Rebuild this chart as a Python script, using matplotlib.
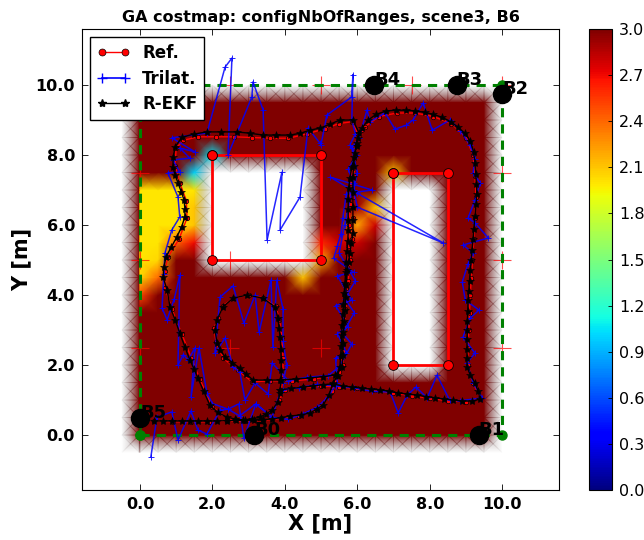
import matplotlib
matplotlib.use("Agg")
import matplotlib.pyplot as plt
import numpy as np
from matplotlib.cm import ScalarMappable
from matplotlib.colors import Normalize
from matplotlib.lines import Line2D

# costmap nodes every 0.5 m, extra column at -0.02 keeps the left rim free of yellow
grid_x = np.concatenate(([-0.5, -0.02], np.arange(0, 10.01, 0.5)))
grid_y = np.arange(-0.5, 10.01, 0.5)
# blocked areas (xmin, xmax, ymin, ymax), no cost known there
blocked = [(-0.5, -0.5, -0.5, 10), (10, 10, -0.5, 10), (-0.5, 10, -0.5, -0.5),
           (-0.5, 10, 10, 10), (2, 4.5, 5, 7.5), (7, 8, 2, 7)]
# nodes below the 3.0 ceiling
low_x = [0, 0, 0, 0, 0, 0, 0, 0.5, 0.5, 0.5, 0.5, 0.5, 0.5, 1, 1, 1, 1, 1.5, 1.5, 1.5, 1.5, 1.5, 2,
         4.5, 5, 5, 7, 6, 6.5, 6, 5.5, 6.5, 6]
low_y = [4, 4.5, 5, 5.5, 6, 6.5, 7, 4.5, 5, 5.5, 6, 6.5, 7, 5.5, 6, 6.5, 7, 5.5, 6, 6.5, 7, 7.5, 8,
         4.5, 5, 5.5, 7.5, 6, 6.5, 5.5, 5.5, 6, 6.5]
low_val = [2.5, 2.05, 2.0, 2.0, 2.0, 2.0, 2.0, 2.4, 2.05, 2.0, 2.0, 2.0, 2.0, 2.4, 2.0, 2.0, 2.0,
           2.7, 2.1, 2.1, 2.0, 1.0, 1.05,
           2.1, 2.2, 2.6, 2.1, 2.2, 2.1, 2.8, 2.8, 2.8, 2.9]
# obstacles, closed outlines
obst1_x = [2, 5, 5, 2, 2]
obst1_y = [8, 8, 5, 5, 8]
obst2_x = [7, 8.5, 8.5, 7, 7]
obst2_y = [7.5, 7.5, 2, 2, 7.5]
arena_x = [0, 10, 10, 0, 0]
arena_y = [0, 0, 10, 10, 0]
plus_x = [0, 0, 0, 2.5, 2.5, 5, 2.5, 5, 7.5, 10, 10, 10, 10]
plus_y = [2.5, 5, 7.5, 2.5, 5, 2.5, 10, 10, 10, 7.5, 5, 2.5, 10]
beacon_names = ["B0", "B1", "B2", "B3", "B4", "B5"]
beacon_x = [3.15, 9.35, 10, 8.75, 6.47, 0]
beacon_y = [0, 0, 9.75, 10, 10, 0.5]

ekf_path = np.array([
    (0.39, 0.40), (0.63, 0.40), (0.88, 0.40), (1.16, 0.40), (1.38, 0.40), (1.60, 0.40), (1.85, 0.40),
    (2.13, 0.40), (2.40, 0.41), (2.65, 0.42), (2.90, 0.42), (3.15, 0.43), (3.40, 0.44), (3.65, 0.46),
    (3.90, 0.50), (4.15, 0.54), (4.45, 0.58), (4.70, 0.63), (4.88, 0.74), (5.06, 0.86), (5.22, 1.15),
    (5.33, 1.49), (5.46, 1.70), (5.52, 1.94), (5.54, 2.25), (5.56, 2.55), (5.57, 2.85), (5.58, 3.15),
    (5.60, 3.45), (5.62, 3.75), (5.64, 4.05), (5.66, 4.35), (5.68, 4.65), (5.70, 4.95), (5.72, 5.25),
    (5.74, 5.55), (5.75, 5.85), (5.75, 6.15), (5.75, 6.45), (5.75, 6.75), (5.76, 7.05), (5.80, 7.35),
    (5.85, 7.65), (5.92, 7.95), (5.98, 8.25), (6.02, 8.50), (6.14, 8.78), (6.30, 9.00), (6.52, 9.16),
    (6.80, 9.26), (7.08, 9.28), (7.35, 9.28), (7.60, 9.26), (7.86, 9.22), (8.10, 9.16), (8.34, 9.08),
    (8.58, 8.95), (8.78, 8.80), (8.97, 8.62), (9.12, 8.40), (9.21, 8.10), (9.25, 7.77), (9.27, 7.47),
    (9.29, 7.17), (9.30, 6.90), (9.28, 6.60), (9.25, 6.25), (9.22, 5.90), (9.20, 5.60), (9.17, 5.29),
    (9.15, 5.00), (9.12, 4.71), (9.10, 4.40), (9.08, 4.12), (9.06, 3.86), (9.05, 3.55), (9.04, 3.25),
    (9.04, 3.00), (9.03, 2.75), (9.03, 2.45), (9.03, 2.20), (9.03, 1.94), (9.12, 1.72), (9.25, 1.49),
    (9.33, 1.27), (9.39, 1.03), (9.17, 0.97), (8.90, 0.97), (8.65, 1.00), (8.40, 1.03), (8.15, 1.06),
    (7.90, 1.10), (7.65, 1.14), (7.38, 1.17), (7.13, 1.20), (6.88, 1.25), (6.63, 1.29), (6.38, 1.31),
    (6.13, 1.34), (5.86, 1.37), (5.60, 1.40), (5.33, 1.46), (5.05, 1.44), (4.77, 1.40), (4.50, 1.37),
    (4.18, 1.33), (3.87, 1.29), (3.87, 1.20), (3.80, 0.94), (3.65, 0.71), (3.48, 0.60), (3.31, 0.51),
    (3.08, 0.46), (2.85, 0.43), (2.62, 0.46), (2.40, 0.51), (2.15, 0.65), (1.93, 0.85), (1.76, 1.25),
    (1.60, 1.63), (1.49, 1.90), (1.38, 2.14), (1.24, 2.52), (1.10, 2.91), (0.97, 3.30), (0.83, 3.66),
    (0.75, 4.14), (0.64, 4.51), (0.66, 4.80), (0.72, 5.09), (0.87, 5.38), (1.02, 5.66), (1.15, 5.95),
    (1.24, 6.23), (1.24, 6.47), (1.22, 6.71), (1.14, 6.95), (1.05, 7.20), (0.97, 7.43), (0.91, 7.66),
    (0.92, 7.95), (0.97, 8.23), (1.16, 8.51), (1.50, 8.60), (1.85, 8.66), (2.25, 8.66), (2.68, 8.66),
    (3.05, 8.62), (3.40, 8.57), (3.77, 8.57), (4.14, 8.57), (4.42, 8.62), (4.70, 8.71), (4.97, 8.77),
    (5.25, 8.88), (5.52, 9.00), (5.88, 9.00), (6.05, 8.63), (5.98, 8.35), (5.94, 8.06), (5.90, 7.70),
    (5.88, 7.37), (5.88, 6.94), (5.88, 6.51), (5.88, 6.14), (5.88, 5.77), (5.84, 5.48), (5.80, 5.20),
    (5.76, 4.95), (5.72, 4.71), (5.70, 4.30), (5.68, 3.95), (5.66, 3.57), (5.64, 3.25), (5.62, 2.95),
    (5.60, 2.63), (5.60, 2.30), (5.58, 1.94), (5.39, 1.71), (5.05, 1.67), (4.70, 1.63), (4.30, 1.60),
    (3.87, 1.57), (3.50, 1.57), (3.12, 1.57), (2.94, 1.74), (2.76, 1.91), (2.55, 2.07), (2.35, 2.23),
    (2.22, 2.43), (2.13, 2.63), (2.07, 3.00), (2.13, 3.29), (2.29, 3.66), (2.57, 3.91), (2.96, 4.00),
    (3.40, 3.91), (3.73, 3.66), (3.81, 3.34), (3.84, 3.07), (3.87, 2.80), (3.89, 2.47), (3.90, 2.14),
    (3.90, 1.85), (3.90, 1.57), (3.87, 1.30),
])
ref_path = np.array([
    (0.40, 0.40), (0.90, 0.38), (1.40, 0.38), (1.90, 0.38), (2.40, 0.40), (2.90, 0.40), (3.40, 0.42),
    (3.90, 0.48), (4.40, 0.55), (4.90, 0.72), (5.30, 1.25), (5.50, 1.80), (5.60, 2.40), (5.62, 3.00),
    (5.65, 3.60), (5.68, 4.20), (5.72, 4.80), (5.75, 5.40), (5.78, 6.00), (5.80, 6.60), (5.82, 7.20),
    (5.88, 7.80), (6.00, 8.30), (6.20, 8.80), (6.60, 9.10), (7.10, 9.20), (7.60, 9.20), (8.10, 9.10),
    (8.60, 8.90), (9.00, 8.50), (9.20, 8.00), (9.25, 7.40), (9.28, 6.80), (9.25, 6.20), (9.22, 5.60),
    (9.18, 5.00), (9.15, 4.50), (9.12, 4.00), (9.10, 3.50), (9.08, 3.00), (9.06, 2.50), (9.05, 2.00),
    (9.20, 1.50), (9.40, 1.05), (9.00, 0.95), (8.50, 0.98), (8.00, 1.05), (7.50, 1.12), (7.00, 1.20),
    (6.50, 1.28), (6.00, 1.33), (5.50, 1.38), (5.00, 1.40), (4.50, 1.36), (4.00, 1.30), (3.85, 1.00),
    (3.65, 0.68), (3.30, 0.48), (2.85, 0.40), (2.40, 0.48), (2.00, 0.80), (1.65, 1.60), (1.42, 2.20),
    (1.15, 2.90), (0.88, 3.60), (0.70, 4.20), (0.68, 4.70), (0.78, 5.10), (1.08, 5.60), (1.30, 6.20),
    (1.28, 6.70), (1.10, 7.20), (0.97, 7.70), (1.00, 8.20), (1.20, 8.42), (1.60, 8.52), (2.10, 8.52),
    (2.60, 8.52), (3.10, 8.50), (3.60, 8.48), (4.10, 8.48), (4.60, 8.60), (5.10, 8.75), (5.50, 8.90),
    (5.85, 8.95), (6.02, 8.60), (5.95, 8.00), (5.90, 7.40), (5.88, 6.80), (5.88, 6.20), (5.85, 5.60),
    (5.80, 5.00), (5.75, 4.40), (5.70, 3.80), (5.66, 3.20), (5.62, 2.60), (5.60, 2.00), (5.40, 1.70),
    (4.80, 1.60), (4.20, 1.55), (3.60, 1.55), (3.10, 1.52), (2.70, 1.85), (2.30, 2.20), (2.10, 2.65),
    (2.05, 3.05), (2.15, 3.35), (2.30, 3.70), (2.60, 3.92), (3.00, 4.00), (3.40, 3.92), (3.75, 3.68),
    (3.85, 3.30), (3.92, 2.80), (3.95, 2.20), (3.95, 1.60), (3.90, 1.30),
])
trilat_path = np.array([
    (0.30, -0.63), (0.47, 0.51), (0.88, 0.66), (1.05, -0.14), (1.41, 0.69), (1.60, 0.14), (1.85, 0.03),
    (2.21, 0.71), (2.43, 0.74), (2.73, 0.89), (2.87, -0.09), (3.20, 0.89), (3.65, 0.51), (4.10, 0.45),
    (4.50, 0.60), (4.90, 0.80), (5.20, 1.10), (5.45, 1.50), (5.40, 2.20), (5.70, 2.35), (5.45, 2.90),
    (5.75, 3.10), (5.40, 3.70), (5.85, 3.85), (5.45, 4.55), (5.90, 4.65), (5.35, 5.05), (5.45, 5.40),
    (5.55, 5.75), (5.60, 6.20), (5.70, 6.90), (6.41, 7.00), (5.25, 7.37), (6.00, 6.91), (8.37, 5.49),
    (6.00, 6.51), (5.90, 7.00), (6.00, 7.50), (5.85, 8.20), (6.05, 8.50), (6.27, 9.29), (6.35, 8.95),
    (6.77, 9.20), (7.04, 8.74), (7.35, 8.85), (7.54, 9.00), (7.82, 9.49), (8.07, 8.71), (8.56, 9.00),
    (8.85, 8.70), (9.10, 8.30), (9.25, 7.90), (9.20, 7.50), (9.39, 7.20), (9.25, 6.71), (9.06, 6.20),
    (9.25, 6.06), (9.62, 5.63), (8.92, 5.43), (9.20, 5.20), (9.06, 4.90), (8.90, 4.37), (8.98, 3.86),
    (9.36, 3.57), (9.12, 3.34), (8.92, 2.80), (9.25, 2.34), (9.03, 2.06), (9.20, 1.49), (9.45, 1.06),
    (8.85, 0.98), (8.55, 1.00), (8.20, 1.71), (7.93, 1.06), (7.62, 1.37), (7.38, 1.14), (7.13, 0.63),
    (6.91, 1.23), (6.40, 1.25), (5.90, 1.35), (5.40, 1.40), (4.90, 1.45), (4.40, 1.35), (3.95, 1.30),
    (3.87, 1.23), (3.65, 0.51), (3.20, 0.89), (2.75, 0.55), (2.43, 0.74), (2.00, 0.90), (1.85, 1.20),
    (1.63, 2.49), (1.41, 1.09), (1.52, 2.49), (1.33, 2.14), (1.20, 2.30), (1.05, 2.00), (1.10, 4.57),
    (0.95, 3.90), (0.75, 3.29), (0.61, 3.63), (0.66, 4.60), (0.69, 5.20), (0.88, 5.86), (1.10, 6.23),
    (1.05, 6.80), (0.77, 7.49), (1.10, 7.51), (0.91, 7.86), (1.38, 7.91), (1.10, 8.20), (1.52, 8.09),
    (0.88, 8.49), (1.85, 8.63), (2.35, 10.51), (2.54, 10.77), (2.43, 8.00), (3.09, 9.66), (3.12, 10.09),
    (3.40, 9.29), (3.51, 5.57), (3.92, 7.51), (3.87, 5.86), (4.42, 6.80), (4.64, 8.77), (4.97, 8.34),
    (5.00, 8.30), (5.16, 9.14), (5.85, 9.66), (5.88, 10.30), (5.85, 9.00), (5.95, 8.60), (5.80, 8.30),
    (5.98, 8.00), (5.75, 7.60), (5.90, 7.20), (5.65, 6.00), (5.50, 5.20), (5.95, 4.40), (5.65, 3.90),
    (5.92, 3.50), (5.60, 2.90), (5.85, 2.60), (5.50, 1.95), (5.20, 1.70), (4.60, 1.65), (4.10, 1.55),
    (3.65, 2.06), (3.54, 1.17), (3.18, 1.49), (2.90, 1.00), (2.76, 1.80), (2.57, 1.94), (2.35, 2.77),
    (2.07, 2.34), (2.21, 3.94), (2.57, 4.26), (2.87, 3.20), (3.18, 4.00), (3.29, 2.94), (3.62, 4.43),
    (3.67, 2.51), (3.78, 4.43), (3.95, 3.60), (3.95, 2.70), (4.05, 2.00), (3.95, 1.50),
])

W, H = 644, 540


def px_axes(left, top, right, bottom):
    return [left / W, 1 - bottom / H, (right - left) / W, (bottom - top) / H]


cost = np.full((len(grid_y), len(grid_x)), 3.0)
for nx, ny, v in zip(low_x, low_y, low_val):
    cost[np.searchsorted(grid_y, ny), np.searchsorted(grid_x, nx)] = v
for x0, x1, y0, y1 in blocked:
    cost[np.ix_((grid_y >= y0) & (grid_y <= y1), (grid_x >= x0) & (grid_x <= x1))] = np.nan

# unknown nodes stay transparent, the mesh fades to them
norm = Normalize(0, 3)
cmap = plt.get_cmap("jet")
rgba = cmap(norm(np.ma.masked_invalid(cost)))
rgba[np.isnan(cost)] = (0.45, 0.45, 0.45, 0)

fig = plt.figure(figsize=(W / 100, H / 100), dpi=100)
ax = fig.add_axes(px_axes(82, 29, 559, 490))
ax.pcolormesh(grid_x, grid_y, rgba, shading="gouraud", zorder=1)

ax.plot(plus_x, plus_y, "+", color="red", ms=13, mew=0.8, alpha=0.7, zorder=2)
ax.plot(arena_x, arena_y, "--o", color="green", lw=2.2, ms=6.5, mec="green", dashes=(3, 2.3), zorder=3)
for ox, oy in ((obst1_x, obst1_y), (obst2_x, obst2_y)):
    ax.plot(ox, oy, "-o", color="red", lw=2, ms=7, mec="black", mew=0.6, zorder=4)
ax.plot(ref_path[:, 0], ref_path[:, 1], "-o", color="red", lw=1, ms=3.2, mec="black", mew=0.5, zorder=5)
ax.plot(trilat_path[:, 0], trilat_path[:, 1], "-+", color="blue", lw=1.1, ms=5, mew=0.7, alpha=0.85, zorder=6)
ax.plot(ekf_path[:, 0], ekf_path[:, 1], "-*", color="black", lw=1, ms=6, mew=0.4, zorder=7)
ax.plot(beacon_x, beacon_y, "o", color="black", ms=13, zorder=8)
for name, bx, by in zip(beacon_names, beacon_x, beacon_y):
    ax.text(bx, by, name, fontsize=13, fontweight="bold", color="black", zorder=9,
            ha="left", va="baseline")

ax.set_xlim(-1.6, 11.57)
ax.set_ylim(-1.57, 11.6)
ax.set_xticks(np.arange(0, 11, 2))
ax.set_yticks(np.arange(0, 11, 2))
ax.set_xticklabels([f"{t:.1f}" for t in np.arange(0, 11, 2)], fontweight="bold", fontsize=11.5)
ax.set_yticklabels([f"{t:.1f}" for t in np.arange(0, 11, 2)], fontweight="bold", fontsize=11.5)
ax.tick_params(direction="in", top=True, right=True, length=4, width=0.6, pad=5)
ax.set_xlabel("X [m]", fontsize=15, fontweight="bold", labelpad=1)
ax.set_ylabel("Y [m]", fontsize=15, fontweight="bold", labelpad=3)
ax.set_title("GA costmap: configNbOfRanges, scene3, B6", fontsize=11.5, fontweight="bold", pad=5)

handles = [
    Line2D([], [], color="red", marker="o", ms=5, mec="black", mew=0.5, lw=1),
    Line2D([], [], color="blue", marker="+", ms=7, lw=1.2),
    Line2D([], [], color="black", marker="*", ms=6, lw=1),
]
leg = ax.legend(handles, ["Ref.", "Trilat.", "R-EKF"], numpoints=2, loc="upper left",
                fancybox=False, framealpha=1, edgecolor="black", borderaxespad=0.5,
                prop={"weight": "bold", "size": 12}, handlelength=2.0, labelspacing=0.45,
                handletextpad=0.7)
leg.set_zorder(20)

cax = fig.add_axes(px_axes(589, 29, 612, 490))
cbar = fig.colorbar(ScalarMappable(norm=norm, cmap=cmap), cax=cax, ticks=np.arange(0, 3.01, 0.3))
cbar.ax.set_yticklabels([f"{t:.1f}" for t in np.arange(0, 3.01, 0.3)], fontsize=11.5)
cbar.ax.tick_params(direction="in", length=3, width=0.6, pad=5)

fig.savefig("out.png", dpi=100)
